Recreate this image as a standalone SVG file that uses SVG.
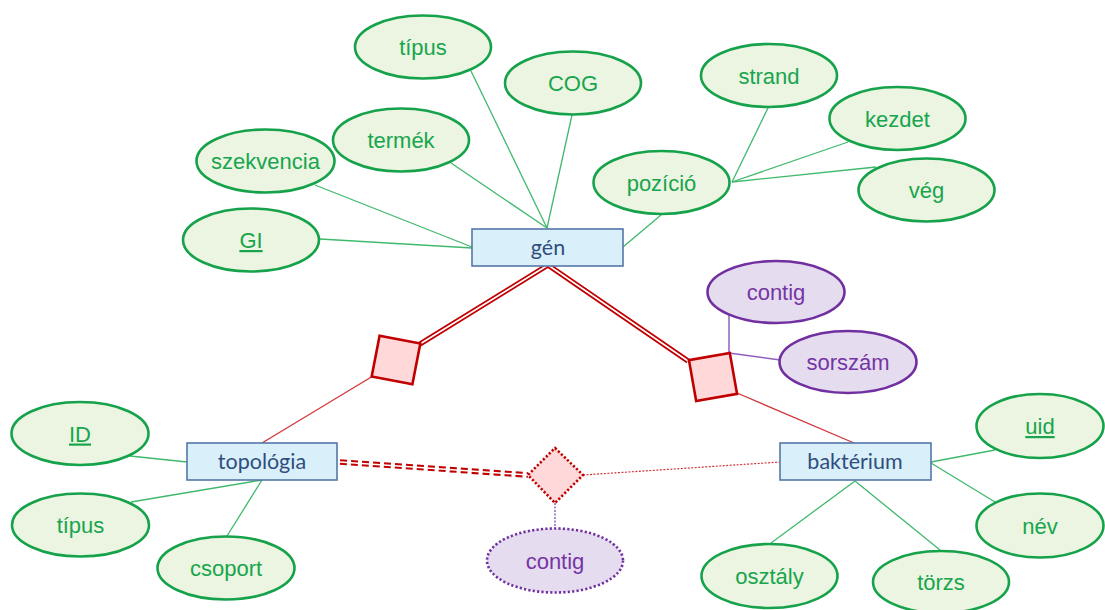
<svg xmlns="http://www.w3.org/2000/svg" width="1105" height="610" viewBox="0 0 1105 610">
<style>
.attr{fill:#ebf5e1;stroke:#15a24a;stroke-width:2.6}
.atxt{font-family:"Liberation Sans",Arial,sans-serif;font-size:22px;fill:#18a54d;text-anchor:middle}
.pattr{fill:#e6dcef;stroke:#7030a0;stroke-width:2.6}
.ptxt{font-family:"Liberation Sans",Arial,sans-serif;font-size:22px;fill:#7535a5;text-anchor:middle}
.ent{fill:#d9eff9;stroke:#5577a8;stroke-width:1.6}
.etxt{font-family:Lato,"Open Sans",sans-serif;font-size:21.5px;fill:#2f4e7d;text-anchor:middle}
.gl{stroke:#3fb96c;stroke-width:1.3;fill:none}
.rl{stroke:#d0353a;stroke-width:1.3;fill:none}
.pl{stroke:#9060c0;stroke-width:1.5;fill:none}
.rel{fill:#ffd9d9;stroke:#c00000;stroke-width:2.6}
</style>
<g id="connectors">
<line class="gl" x1="471" y1="71" x2="547" y2="228"/>
<line class="gl" x1="572" y1="115" x2="547" y2="228"/>
<line class="gl" x1="451" y1="163" x2="547" y2="228"/>
<line class="gl" x1="315" y1="185" x2="472" y2="247"/>
<line class="gl" x1="320" y1="239" x2="472" y2="248"/>
<line class="gl" x1="661" y1="215" x2="623" y2="247"/>
<line class="gl" x1="768" y1="108" x2="732" y2="182"/>
<line class="gl" x1="848" y1="142" x2="732" y2="182"/>
<line class="gl" x1="876" y1="167" x2="732" y2="182"/>
<line class="gl" x1="130" y1="456" x2="187" y2="462"/>
<line class="gl" x1="131" y1="502" x2="262" y2="480"/>
<line class="gl" x1="227" y1="536" x2="262" y2="480"/>
<line class="gl" x1="995" y1="450" x2="931" y2="462"/>
<line class="gl" x1="995" y1="502" x2="931" y2="463"/>
<line class="gl" x1="771" y1="543" x2="855" y2="481"/>
<line class="gl" x1="940" y1="550" x2="855" y2="481"/>
<path d="M420,344 L548,265 L688,361" fill="none" stroke="#c00000" stroke-width="5.2" stroke-linejoin="miter"/>
<path d="M420,344 L548,265 L688,361" fill="none" stroke="#ffffff" stroke-width="1.6" stroke-linejoin="miter"/>
<line class="rl" x1="373" y1="376" x2="262" y2="443"/>
<line class="rl" x1="737" y1="393" x2="854" y2="443"/>
<line x1="340" y1="462" x2="528" y2="475" stroke="#c00000" stroke-width="5.6" stroke-dasharray="7 4"/>
<line x1="340" y1="462" x2="528" y2="475" stroke="#ffffff" stroke-width="1.5"/>
<line x1="583" y1="475" x2="780" y2="462" stroke="#d0353a" stroke-width="1.2" stroke-dasharray="2 1.5"/>
<line x1="555" y1="503" x2="555" y2="528" stroke="#9060c0" stroke-width="1.5" stroke-dasharray="2 1.5"/>
<line class="pl" x1="729" y1="314" x2="729" y2="353"/>
<line class="pl" x1="729" y1="353" x2="780" y2="360"/>
</g>
<g id="gen"><rect class="ent" x="472" y="229" width="151" height="37"/><text class="etxt" x="548" y="255">gén</text></g>
<g id="topologia"><rect class="ent" x="187" y="443" width="150" height="37"/><text class="etxt" x="262" y="469">topológia</text></g>
<g id="bakterium"><rect class="ent" x="780" y="443" width="151" height="37"/><text class="etxt" x="855" y="469">baktérium</text></g>
<g id="rel-left"><rect class="rel" x="375.25" y="339.25" width="41.5" height="41.5" transform="rotate(11 396 360)"/></g>
<g id="rel-right"><rect class="rel" x="692.25" y="356.25" width="41.5" height="41.5" transform="rotate(-10 713 377)"/></g>
<g id="rel-mid"><polygon points="555,448 583,475 555,503 528,475" fill="#ffd9d9" stroke="#c00000" stroke-width="2.6" stroke-dasharray="2.2 2"/></g>
<g id="a-tipus"><ellipse class="attr" cx="423" cy="47" rx="68" ry="31.5"/><text class="atxt" x="423" y="55">típus</text></g>
<g id="a-cog"><ellipse class="attr" cx="573" cy="83" rx="68" ry="31.5"/><text class="atxt" x="573" y="91">COG</text></g>
<g id="a-termek"><ellipse class="attr" cx="401" cy="140" rx="68" ry="31.5"/><text class="atxt" x="401" y="148">termék</text></g>
<g id="a-szekvencia"><ellipse class="attr" cx="265.5" cy="161" rx="69" ry="31.5"/><text class="atxt" x="265.5" y="169">szekvencia</text></g>
<g id="a-gi"><ellipse class="attr" cx="251" cy="240" rx="68" ry="31.5"/><text class="atxt" x="251" y="248" text-decoration="underline">GI</text></g>
<g id="a-strand"><ellipse class="attr" cx="769" cy="75.5" rx="68" ry="31.5"/><text class="atxt" x="769" y="83.5">strand</text></g>
<g id="a-kezdet"><ellipse class="attr" cx="897.5" cy="118.5" rx="68" ry="31.5"/><text class="atxt" x="897.5" y="126.5">kezdet</text></g>
<g id="a-pozicio"><ellipse class="attr" cx="661.5" cy="182.5" rx="68" ry="31.5"/><text class="atxt" x="661.5" y="190.5">pozíció</text></g>
<g id="a-veg"><ellipse class="attr" cx="926.5" cy="190" rx="68" ry="31.5"/><text class="atxt" x="926.5" y="198">vég</text></g>
<g id="a-contig1"><ellipse class="pattr" cx="776" cy="292" rx="68.5" ry="31"/><text class="ptxt" x="776" y="300">contig</text></g>
<g id="a-sorszam"><ellipse class="pattr" cx="848" cy="362" rx="68.5" ry="31"/><text class="ptxt" x="848" y="370">sorszám</text></g>
<g id="a-id"><ellipse class="attr" cx="80" cy="433.5" rx="68.5" ry="31.5"/><text class="atxt" x="80" y="441.5" text-decoration="underline">ID</text></g>
<g id="a-tipus2"><ellipse class="attr" cx="80.5" cy="525" rx="68.5" ry="31.5"/><text class="atxt" x="80.5" y="533">típus</text></g>
<g id="a-csoport"><ellipse class="attr" cx="226" cy="568" rx="68.5" ry="31.5"/><text class="atxt" x="226" y="576">csoport</text></g>
<g id="a-contig2"><ellipse cx="555" cy="560.5" rx="68" ry="32" fill="#e6dcef" stroke="#7030a0" stroke-width="2.6" stroke-dasharray="2.2 2.2"/><text class="ptxt" x="555" y="568.5">contig</text></g>
<g id="a-uid"><ellipse class="attr" cx="1040" cy="426" rx="63.5" ry="32"/><text class="atxt" x="1040" y="434" text-decoration="underline">uid</text></g>
<g id="a-nev"><ellipse class="attr" cx="1040" cy="525.5" rx="63.5" ry="32"/><text class="atxt" x="1040" y="533.5">név</text></g>
<g id="a-osztaly"><ellipse class="attr" cx="769.5" cy="576" rx="68" ry="32"/><text class="atxt" x="769.5" y="584">osztály</text></g>
<g id="a-torzs"><ellipse class="attr" cx="941" cy="582" rx="68" ry="31"/><text class="atxt" x="941" y="590">törzs</text></g>
</svg>
